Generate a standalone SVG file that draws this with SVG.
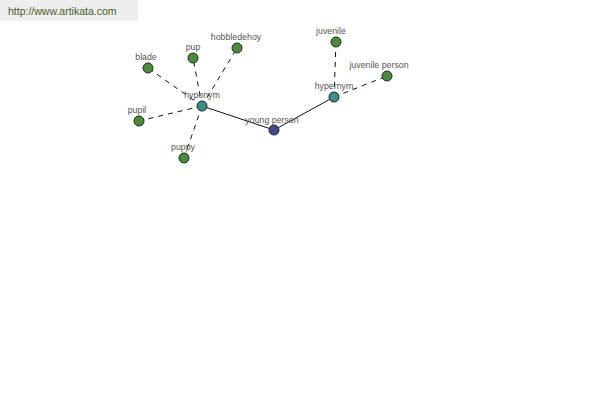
<svg xmlns="http://www.w3.org/2000/svg" width="600" height="400" viewBox="0 0 600 400">
<style>
.lbl{font-family:"Liberation Sans",Arial,sans-serif;font-size:8.8px;fill:#555;text-anchor:middle}
.n{stroke:#1e2a1e;stroke-width:1}
.g{fill:#4e8a3e}
.t{fill:#3e8c8c}
.b{fill:#45488f}
.d{stroke:#111;stroke-width:1;stroke-dasharray:5,5;fill:none}
.s{stroke:#111;stroke-width:1;fill:none}
</style>
<rect width="600" height="400" fill="#fff"/>
<rect x="0" y="0" width="138" height="21" fill="#eeeeee"/>
<text x="8" y="15" style="font-family:'Liberation Sans',Arial,sans-serif;font-size:10.5px;fill:#4b5a2b">http://www.artikata.com</text>
<g id="connectors">
<line class="s" x1="202" y1="106" x2="274" y2="130"/>
<line class="s" x1="274" y1="130" x2="334" y2="97"/>
<line class="d" x1="202" y1="106" x2="148" y2="68"/>
<line class="d" x1="202" y1="106" x2="193" y2="58"/>
<line class="d" x1="202" y1="106" x2="237" y2="48"/>
<line class="d" x1="202" y1="106" x2="139" y2="121"/>
<line class="d" x1="202" y1="106" x2="184" y2="158"/>
<line class="d" x1="334" y1="97" x2="336" y2="42"/>
<line class="d" x1="334" y1="97" x2="387" y2="76"/>
</g>
<g id="young-person"><circle class="n b" cx="274" cy="130" r="5"/><text class="lbl" x="272" y="123">young person</text></g>
<g id="hyponym"><circle class="n t" cx="202" cy="106" r="5"/><text class="lbl" x="202" y="98">hyponym</text></g>
<g id="hypernym"><circle class="n t" cx="334" cy="97" r="5"/><text class="lbl" x="334" y="89">hypernym</text></g>
<g id="blade"><circle class="n g" cx="148" cy="68" r="5"/><text class="lbl" x="146" y="60">blade</text></g>
<g id="pup"><circle class="n g" cx="193" cy="58" r="5"/><text class="lbl" x="193" y="50">pup</text></g>
<g id="hobbledehoy"><circle class="n g" cx="237" cy="48" r="5"/><text class="lbl" x="236" y="40">hobbledehoy</text></g>
<g id="pupil"><circle class="n g" cx="139" cy="121" r="5"/><text class="lbl" x="137" y="113">pupil</text></g>
<g id="puppy"><circle class="n g" cx="184" cy="158" r="5"/><text class="lbl" x="183" y="150">puppy</text></g>
<g id="juvenile"><circle class="n g" cx="336" cy="42" r="5"/><text class="lbl" x="331" y="34">juvenile</text></g>
<g id="juvenile-person"><circle class="n g" cx="387" cy="76" r="5"/><text class="lbl" x="379" y="68">juvenile person</text></g>
</svg>
